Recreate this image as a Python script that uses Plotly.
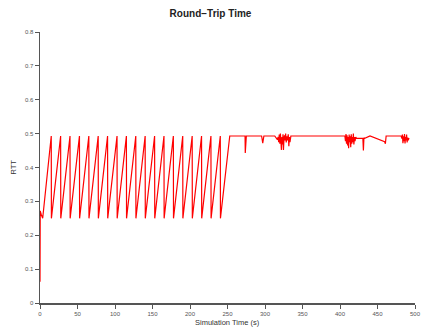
import plotly.graph_objects as go

# Sawtooth phase (slow start / congestion avoidance cycles)
saw_time = [0.0, 0.3, 1.5, 3.6,
            15.0, 15.2, 27.5, 27.7, 40.0, 40.2, 52.6, 52.8, 65.1, 65.3,
            77.6, 77.8, 90.1, 90.3, 102.7, 102.9, 115.2, 115.4, 127.7, 127.9,
            140.2, 140.4, 152.8, 153.0, 165.3, 165.5, 177.8, 178.0, 190.3, 190.5,
            202.9, 203.1, 215.4, 215.6, 227.9, 228.1, 240.4, 240.6, 253.0]
saw_rtt = [0.063, 0.272, 0.262, 0.250,
           0.493, 0.250, 0.493, 0.250, 0.493, 0.250, 0.493, 0.250, 0.493, 0.250,
           0.493, 0.250, 0.493, 0.250, 0.493, 0.250, 0.493, 0.250, 0.493, 0.250,
           0.493, 0.250, 0.493, 0.250, 0.493, 0.250, 0.493, 0.250, 0.493, 0.250,
           0.493, 0.250, 0.493, 0.250, 0.493, 0.250, 0.493, 0.250, 0.493]

# Steady phase with jitter
flat_time = [273.4, 273.7, 274.1, 274.6, 275.1, 295.5, 297.0, 298.5,
             313.0, 316.5, 317.5, 318.2, 319.0, 319.8, 320.5, 321.2, 321.9, 322.6,
             323.3, 324.0, 324.6, 325.3, 326.0, 326.8, 327.5, 328.3, 329.0, 330.0,
             331.0, 331.8, 332.5, 333.3, 334.5,
             406.5, 407.3, 408.0, 408.7, 409.4, 410.1, 410.8, 411.5, 412.2, 412.9,
             413.6, 414.3, 415.0, 415.7, 416.4, 417.1, 417.8, 418.5, 419.3, 420.0,
             421.0, 422.0, 430.5, 431.2, 431.9, 433.0, 440.0, 459.5, 460.5, 461.5,
             481.5, 482.5, 483.2, 483.9, 484.6, 485.3, 486.0, 486.7, 487.4, 488.1,
             488.8, 489.5, 490.2, 491.0, 492.0]
flat_rtt = [0.493, 0.443, 0.490, 0.446, 0.493, 0.493, 0.472, 0.493,
            0.493, 0.482, 0.490, 0.475, 0.497, 0.470, 0.500, 0.478, 0.452, 0.490,
            0.468, 0.498, 0.452, 0.485, 0.495, 0.480, 0.500, 0.474, 0.492, 0.480,
            0.498, 0.463, 0.490, 0.475, 0.493,
            0.493, 0.478, 0.499, 0.470, 0.495, 0.465, 0.490, 0.457, 0.497, 0.475,
            0.492, 0.460, 0.498, 0.470, 0.490, 0.475, 0.500, 0.468, 0.490, 0.478,
            0.490, 0.486, 0.486, 0.450, 0.488, 0.486, 0.493, 0.476, 0.470, 0.493,
            0.493, 0.485, 0.497, 0.472, 0.492, 0.478, 0.499, 0.471, 0.490, 0.480,
            0.497, 0.474, 0.488, 0.480, 0.487]

time_s = saw_time + flat_time
rtt = saw_rtt + flat_rtt

x_ticks = [0, 50, 100, 150, 200, 250, 300, 350, 400, 450, 500]
y_ticks = [0, 0.1, 0.2, 0.3, 0.4, 0.5, 0.6, 0.7, 0.8]
y_tick_labels = ["0", "0.1", "0.2", "0.3", "0.4", "0.5", "0.6", "0.7", "0.8"]

FONT = "Liberation Sans, Arial, sans-serif"
AXIS_COLOR = "#555555"

fig = go.Figure()
fig.add_trace(go.Scatter(x=time_s, y=rtt, mode="lines",
                         line=dict(color="#ff0000", width=1.2),
                         showlegend=False))

fig.update_layout(
    width=421, height=328,
    margin=dict(l=40, r=6, t=32, b=25, autoexpand=False),
    paper_bgcolor="white", plot_bgcolor="white",
    font=dict(family=FONT, color="#333333"),
    title=dict(text="<b>Round\u2212Trip Time</b>", x=0.5, xref="container",
               xanchor="center", y=1 - 13 / 328, yref="container", yanchor="middle",
               automargin=False,
               font=dict(size=10, color="#222222", family=FONT)),
    xaxis=dict(range=[0, 500], tickmode="array", tickvals=x_ticks,
               automargin=False,
               showgrid=False, zeroline=False, showline=True,
               linecolor=AXIS_COLOR, linewidth=1.5,
               ticks="outside", ticklen=4, tickwidth=1, tickcolor=AXIS_COLOR,
               tickfont=dict(size=6, color="#555555")),
    yaxis=dict(range=[0, 0.8], tickmode="array", tickvals=y_ticks,
               ticktext=y_tick_labels, automargin=False,
               showgrid=False, zeroline=False, showline=True,
               linecolor=AXIS_COLOR, linewidth=1.5,
               ticks="outside", ticklen=4, tickwidth=1, tickcolor=AXIS_COLOR,
               tickfont=dict(size=6, color="#555555")),
    annotations=[
        dict(text="Simulation Time (s)", xref="paper", yref="paper",
             x=0.5, y=(303 - 322) / 271, xanchor="center", yanchor="middle",
             showarrow=False, font=dict(size=7.5, color="#333333", family=FONT)),
        dict(text="RTT", xref="paper", yref="paper",
             x=(13 - 40) / 375, y=0.5, xanchor="center", yanchor="middle",
             textangle=-90, showarrow=False,
             font=dict(size=7.5, color="#333333", family=FONT)),
    ],
)

fig.write_html("out.html",
               config={"displayModeBar": False, "staticPlot": True},
               post_script="document.body.style.margin='0';"
                           "document.body.style.overflow='hidden';")
